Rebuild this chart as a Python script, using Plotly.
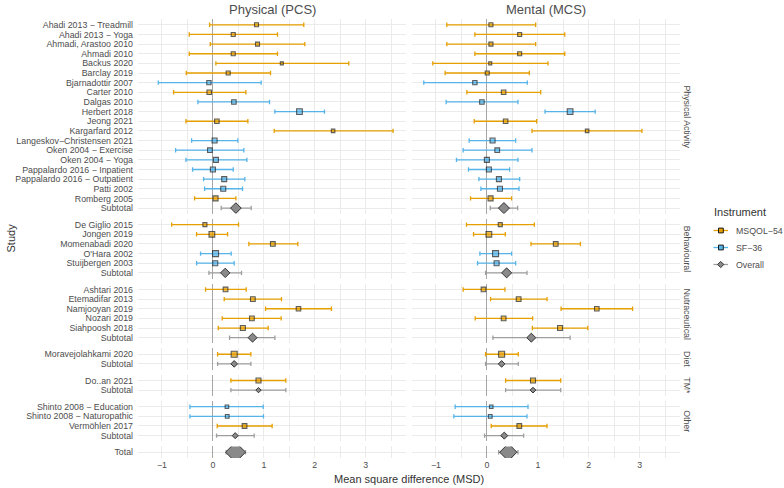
import plotly.graph_objects as go
from plotly.subplots import make_subplots

# ---------------- data ----------------
group_names = ["Physical Activity", "Behavioural", "Nutraceutical", "Diet", "TM*", "Other", ""]

study = [
    "Ahadi 2013 − Treadmill", "Ahadi 2013 − Yoga", "Ahmadi, Arastoo 2010", "Ahmadi 2010",
    "Backus 2020", "Barclay 2019", "Bjarnadottir 2007", "Carter 2010", "Dalgas 2010",
    "Herbert 2018", "Jeong 2021", "Kargarfard 2012", "Langeskov−Christensen 2021",
    "Oken 2004 − Exercise", "Oken 2004 − Yoga", "Pappalardo 2016 − Inpatient",
    "Pappalardo 2016 − Outpatient", "Patti 2002", "Romberg 2005",
    "De Giglio 2015", "Jongen 2019", "Momenabadi 2020", "O'Hara 2002", "Stuijbergen 2003",
    "Ashtari 2016", "Etemadifar 2013", "Namjooyan 2019", "Nozari 2019", "Siahpoosh 2018",
    "Moravejolahkami 2020",
    "Do..an 2021",
    "Shinto 2008 − Education", "Shinto 2008 − Naturopathic", "Vermöhlen 2017",
]
group = (["Physical Activity"] * 19 + ["Behavioural"] * 5 + ["Nutraceutical"] * 5
         + ["Diet"] + ["TM*"] + ["Other"] * 3)
instrument = [
    "MSQOL−54", "MSQOL−54", "MSQOL−54", "MSQOL−54", "MSQOL−54", "MSQOL−54", "SF−36",
    "MSQOL−54", "SF−36", "SF−36", "MSQOL−54", "MSQOL−54", "SF−36", "SF−36", "SF−36",
    "SF−36", "SF−36", "SF−36", "MSQOL−54",
    "MSQOL−54", "MSQOL−54", "MSQOL−54", "SF−36", "SF−36",
    "MSQOL−54", "MSQOL−54", "MSQOL−54", "MSQOL−54", "MSQOL−54",
    "MSQOL−54",
    "MSQOL−54",
    "SF−36", "SF−36", "MSQOL−54",
]
pcs_est = [0.856, 0.399, 0.876, 0.399, 1.353, 0.300, -0.078, -0.072, 0.412, 1.699, 0.078, 2.359,
           0.033, -0.059, 0.059, 0.000, 0.222, 0.203, 0.052,
           -0.157, -0.020, 1.176, 0.052, 0.046,
           0.248, 0.784, 1.680, 0.765, 0.588,
           0.418, 0.895, 0.275, 0.281, 0.621]
pcs_lo = [-0.065, -0.464, -0.052, -0.464, 0.059, -0.523, -1.072, -0.771, -0.294, 1.216, -0.529, 1.203,
          -0.418, -0.732, -0.529, -0.399, -0.183, -0.163, -0.359,
          -0.810, -0.320, 0.706, -0.242, -0.320,
          -0.144, 0.222, 1.033, 0.183, 0.105,
          0.092, 0.353, -0.451, -0.451, 0.085]
pcs_hi = [1.784, 1.268, 1.804, 1.268, 2.667, 1.131, 0.948, 0.647, 1.111, 2.190, 0.686, 3.536,
          0.490, 0.608, 0.667, 0.399, 0.627, 0.582, 0.451,
          0.503, 0.288, 1.667, 0.359, 0.418,
          0.654, 1.346, 2.327, 1.340, 1.085,
          0.745, 1.431, 0.987, 0.993, 1.163]
mcs_est = [0.079, 0.643, 0.079, 0.643, 0.066, 0.007, -0.236, 0.328, -0.098, 1.633, 0.367, 1.967,
           0.111, 0.203, 0.000, 0.039, 0.236, 0.256, 0.072,
           0.262, 0.039, 1.351, 0.170, 0.190,
           -0.066, 0.623, 2.157, 0.328, 1.436,
           0.289, 0.905, 0.085, 0.066, 0.636]
mcs_lo = [-0.787, -0.236, -0.787, -0.236, -1.062, -0.820, -1.239, -0.393, -0.800, 1.141, -0.249, 0.885,
          -0.348, -0.466, -0.597, -0.361, -0.157, -0.118, -0.321,
          -0.400, -0.262, 0.866, -0.138, -0.184,
          -0.466, 0.072, 1.456, -0.230, 0.892,
          -0.026, 0.367, -0.623, -0.649, 0.085]
mcs_hi = [0.957, 1.528, 0.957, 1.528, 1.200, 0.833, 0.793, 1.056, 0.610, 2.125, 0.977, 3.043,
          0.564, 0.885, 0.610, 0.446, 0.643, 0.630, 0.485,
          0.931, 0.361, 1.836, 0.485, 0.564,
          0.354, 1.180, 2.859, 0.898, 1.980,
          0.616, 1.449, 0.807, 0.787, 1.180]
weight = [4, 4, 4, 4, 3, 4, 4.3, 4.5, 4.5, 5.7, 4.5, 3.5, 5, 4.7, 5, 5, 5, 5, 5,
          4, 5.7, 4.7, 6, 5,
          4.7, 4.7, 4.5, 4.7, 5,
          6, 5, 3.5, 3.7, 4.7]

# subtotals per group, last entry = overall Total
sub_label = ["Subtotal"] * 6 + ["Total"]
sub_pcs_est = [0.451, 0.242, 0.778, 0.418, 0.895, 0.438, 0.445]
sub_pcs_lo = [0.163, -0.078, 0.327, 0.092, 0.353, 0.072, 0.260]
sub_pcs_hi = [0.752, 0.562, 1.216, 0.745, 1.431, 0.810, 0.640]
sub_mcs_est = [0.334, 0.387, 0.872, 0.289, 0.905, 0.341, 0.420]
sub_mcs_lo = [0.066, -0.026, 0.118, -0.026, 0.367, -0.046, 0.230]
sub_mcs_hi = [0.603, 0.787, 1.633, 0.616, 1.449, 0.721, 0.610]
sub_pcs_weight = [8.2, 7.2, 6.9, 5.1, 4.1, 4.6, 15.4]
sub_mcs_weight = [8.5, 7.7, 6.9, 5.1, 4.4, 5.4, 13.3]

col_titles = ["Physical (PCS)", "Mental (MCS)"]
x_ticks = [-1, 0, 1, 2, 3]
legend_items = ["MSQOL−54", "SF−36", "Overall"]

# ---------------- styling ----------------
COL = {"MSQOL−54": "#E69F00", "SF−36": "#56B4E9"}
GREY_BAR = "#9E9E9E"
GREY_FILL = "#8A8A8A"
EDGE = "#1A1A1A"
FONT = "Liberation Sans, Arial, sans-serif"
TXT = "#4D4D4D"
GRID = "#EBEBEB"

W, H = 784, 488
ML, MR, MT, MB = 138, 104, 19, 30
plot_w = W - ML - MR
plot_h = H - MT - MB


def px_x(px):
    return (px - ML) / plot_w


def px_y(py):
    return (H - MB - py) / plot_h


# rows per panel
rows_cats = []
for gi, g in enumerate(group_names):
    if g == "":
        rows_cats.append(["Total"])
    else:
        rows_cats.append([s for s, gg in zip(study, group) if gg == g] + ["Subtotal"])
row_heights = [len(c) + 0.2 for c in rows_cats]
nrows = len(rows_cats)

fig = make_subplots(rows=nrows, cols=2, shared_xaxes="all", shared_yaxes=True,
                    row_heights=row_heights, vertical_spacing=5 / plot_h,
                    horizontal_spacing=6 / plot_w)

panels = [
    (pcs_est, pcs_lo, pcs_hi, sub_pcs_est, sub_pcs_lo, sub_pcs_hi, sub_pcs_weight),
    (mcs_est, mcs_lo, mcs_hi, sub_mcs_est, sub_mcs_lo, sub_mcs_hi, sub_mcs_weight),
]

for ci, (est, lo, hi, sest, slo, shi, sw) in enumerate(panels):
    for ri, g in enumerate(group_names):
        if g != "":
            for inst in ["MSQOL−54", "SF−36"]:
                idx = [i for i in range(len(study)) if group[i] == g and instrument[i] == inst]
                if not idx:
                    continue
                fig.add_trace(go.Scatter(
                    x=[est[i] for i in idx], y=[study[i] for i in idx], mode="markers",
                    marker=dict(symbol="square", size=[weight[i] for i in idx], color=COL[inst],
                                line=dict(color=EDGE, width=1.1)),
                    error_x=dict(type="data", symmetric=False,
                                 array=[hi[i] - est[i] for i in idx],
                                 arrayminus=[est[i] - lo[i] for i in idx],
                                 color=COL[inst], thickness=1.3, width=2.2),
                    showlegend=False, hoverinfo="skip"), row=ri + 1, col=ci + 1)
        fig.add_trace(go.Scatter(
            x=[sest[ri]], y=[sub_label[ri]], mode="markers",
            marker=dict(symbol="diamond", size=sw[ri], color=GREY_FILL,
                        line=dict(color="#333333", width=1)),
            error_x=dict(type="data", symmetric=False, array=[shi[ri] - sest[ri]],
                         arrayminus=[sest[ri] - slo[ri]], color=GREY_BAR, thickness=1.3, width=2.2),
            showlegend=False, hoverinfo="skip"), row=ri + 1, col=ci + 1)

for ri in range(nrows):
    cats = rows_cats[ri]
    n = len(cats)
    for ci in range(2):
        fig.update_yaxes(type="category", categoryorder="array", categoryarray=cats,
                         tickmode="array", tickvals=cats, ticktext=cats,
                         range=[n - 1 + 0.6, -0.6], showgrid=True, gridcolor=GRID, gridwidth=1,
                         zeroline=False, showline=False, ticks="",
                         showticklabels=(ci == 0), ticklabelstandoff=4,
                         tickfont=dict(family=FONT, size=8.8, color=TXT),
                         row=ri + 1, col=ci + 1)
        fig.update_xaxes(range=[-1.47, 3.79], tickvals=x_ticks, showgrid=True, gridcolor=GRID,
                         gridwidth=1, minor=dict(dtick=0.5, tick0=0, showgrid=True,
                                                 gridcolor=GRID, gridwidth=0.6),
                         zeroline=True, zerolinecolor="#A6A6A6", zerolinewidth=1.2,
                         showline=False, ticks="",
                         showticklabels=(ri == nrows - 1),
                         tickfont=dict(family=FONT, size=8.8, color=TXT),
                         row=ri + 1, col=ci + 1)

annotations = []
shapes = []
# column titles
for ci, t in enumerate(col_titles):
    xa = fig.layout["xaxis" if ci == 0 else "xaxis2"].domain
    annotations.append(dict(text=t, x=(xa[0] + xa[1]) / 2, y=px_y(10), xref="paper",
                            yref="paper", xanchor="center", yanchor="middle", showarrow=False,
                            font=dict(family=FONT, size=13, color="#4D4D4D")))
# row strips
for ri, g in enumerate(group_names):
    if not g:
        continue
    ya = fig.layout["yaxis" if ri == 0 else f"yaxis{2 * ri + 1}"].domain
    annotations.append(dict(text=g, x=px_x(687), y=(ya[0] + ya[1]) / 2, xref="paper",
                            yref="paper", xanchor="center", yanchor="middle", textangle=90,
                            showarrow=False, font=dict(family=FONT, size=8.8, color=TXT)))
annotations.append(dict(text="Mean square difference (MSD)", x=0.5, y=px_y(479),
                        xref="paper", yref="paper", xanchor="center", yanchor="middle",
                        showarrow=False, font=dict(family=FONT, size=11, color="#333333")))
annotations.append(dict(text="Study", x=px_x(10), y=0.5, xref="paper", yref="paper",
                        xanchor="center", yanchor="middle", textangle=-90, showarrow=False,
                        font=dict(family=FONT, size=11, color="#333333")))

# manual legend
annotations.append(dict(text="Instrument", x=px_x(712), y=px_y(212), xref="paper", yref="paper",
                        xanchor="left", yanchor="middle", showarrow=False,
                        font=dict(family=FONT, size=11, color="#333333")))
for k, name in enumerate(legend_items):
    cy = 230.5 + 17 * k
    lcol = COL.get(name, GREY_BAR)
    fcol = COL.get(name, GREY_FILL)
    shapes.append(dict(type="line", xref="paper", yref="paper", x0=px_x(713.5), x1=px_x(728),
                       y0=px_y(cy), y1=px_y(cy), line=dict(color=lcol, width=1.3)))
    if name == "Overall":
        path = "M {x0},{y} L {xm},{y1} L {x1},{y} L {xm},{y2} Z".format(
            x0=px_x(717.6), x1=px_x(723.8), xm=px_x(720.7), y=px_y(cy),
            y1=px_y(cy - 3.1), y2=px_y(cy + 3.1))
        shapes.append(dict(type="path", xref="paper", yref="paper", path=path,
                           fillcolor=fcol, line=dict(color="#333333", width=1)))
    else:
        shapes.append(dict(type="rect", xref="paper", yref="paper", x0=px_x(718.5),
                           x1=px_x(723.3), y0=px_y(cy - 2.4), y1=px_y(cy + 2.4),
                           fillcolor=fcol, line=dict(color=EDGE, width=1)))
    annotations.append(dict(text=name, x=px_x(734), y=px_y(cy), xref="paper", yref="paper",
                            xanchor="left", yanchor="middle", showarrow=False,
                            font=dict(family=FONT, size=8.8, color=TXT)))

fig.update_layout(
    width=W, height=H, margin=dict(l=ML, r=MR, t=MT, b=MB, autoexpand=False),
    plot_bgcolor="white", paper_bgcolor="white",
    font=dict(family=FONT, size=8.8, color=TXT),
    annotations=annotations, shapes=shapes, showlegend=False,
)

fig.write_html("out.html", config={"displayModeBar": False},
               post_script="document.body.style.margin='0px';")
